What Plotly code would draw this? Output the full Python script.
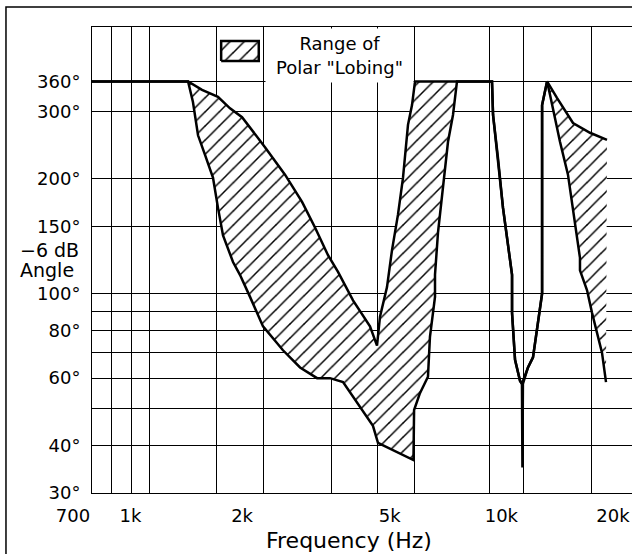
import math
import plotly.graph_objects as go

# Upper envelope of the -6 dB beamwidth (Hz, degrees)
freq_upper = [700, 1271, 1386, 1530, 1649, 1777, 2049, 2320, 2579, 2795, 3030, 3224,
              3539, 3932, 4107, 4184, 4370, 4508, 4678, 4826, 4978, 5104, 5200, 8386,
              8441, 8703, 8977, 9497, 9497, 9676, 9983, 10100, 10485, 10817, 11090,
              11445, 11445, 11804, 12553, 13866, 15409, 17125]
angle_upper = [360, 360, 342, 328, 306, 290, 242, 205, 174, 149, 126, 114,
               96, 82, 73, 87, 104, 130, 161, 201, 277, 312, 360, 360,
               294, 227, 168, 112, 89, 67, 59, 58, 64, 68, 80,
               100, 312, 360, 326, 280, 264, 253]

# Lower envelope of the -6 dB beamwidth (Hz, degrees)
freq_lower = [700, 1271, 1310, 1352, 1412, 1484, 1530, 1579, 1680, 1754, 1867, 2024,
              2291, 2547, 2831, 3067, 3326, 3696, 4005, 4132, 5150, 5170, 5362, 5635,
              5705, 5887, 5887, 5999, 6189, 6382, 6582, 6748, 8386, 8441, 8703, 8977,
              9497, 9497, 9676, 9983, 10100, 10130, 10160, 10485, 10817, 11090, 11445,
              11445, 11804, 12022, 12790, 13440, 13866, 14480, 14480, 15130, 15606,
              16096, 16600, 17020]
angle_lower = [360, 360, 318, 260, 231, 201, 168, 142, 121, 112, 98, 82,
               71, 64, 60, 60, 58.6, 50.4, 45, 40.6, 36.6, 49.5, 54.8, 60.5,
               77, 98, 112, 145, 193, 250, 294, 360, 360, 294, 227, 168,
               112, 89, 67, 59, 58, 35, 58, 64, 68, 80, 100,
               312, 360, 332, 250, 205, 168, 124, 115, 102, 89,
               79, 70, 58.6]

# Axis ticks and grid
grid_freqs = [792.5, 897, 1003, 1512, 2036, 3087, 4107, 5199, 8233, 10228, 15506]
freq_tick_vals = [700, 1000, 2000, 5000, 10000, 20000]
freq_tick_text = ["700", "1k", "2k", "5k", "10k", "20k"]
angle_grid = [30, 40, 50, 60, 70, 80, 90, 100, 150, 200, 300, 360]
angle_tick_text = ["30°", "40°", "", "60°", "", "80°", "", "100°", "150°", "200°", "300°", "360°"]

FONT = "DejaVu Sans"
hatch = dict(shape="/", fgcolor="black", bgcolor="white", fgopacity=1,
             size=10, solidity=0.15)
curve = dict(color="black", width=2.5)

fig = go.Figure()
fig.add_trace(go.Scatter(x=freq_lower, y=angle_lower, mode="lines", line=curve,
                         showlegend=False, hoverinfo="skip"))
fig.add_trace(go.Scatter(x=freq_upper, y=angle_upper, mode="lines", line=curve,
                         fill="tonexty", fillcolor="white", fillpattern=hatch,
                         showlegend=False, hoverinfo="skip"))
# hatched key swatch
fig.add_trace(go.Scatter(x=[0, 1, 1, 0, 0], y=[0, 0, 1, 1, 0], xaxis="x3", yaxis="y3",
                         mode="lines", line=dict(color="black", width=2.5),
                         fill="toself", fillcolor="white", fillpattern=hatch,
                         showlegend=False, hoverinfo="skip"))

fig.update_layout(
    width=632, height=554,
    margin=dict(l=92, r=0, t=27, b=61),
    paper_bgcolor="white", plot_bgcolor="white",
    font=dict(family=FONT, color="black", size=18),
    xaxis=dict(type="log", range=[math.log10(700), math.log10(20000)],
               tickmode="array", tickvals=freq_tick_vals, ticktext=freq_tick_text,
               ticks="", showgrid=False, zeroline=False,
               ticklabelshift=-19, ticklabelstandoff=6,
               tickfont=dict(size=18, family=FONT),
               minor=dict(tickmode="array", tickvals=grid_freqs, showgrid=True,
                          gridcolor="black", gridwidth=1, ticks=""),
               showline=True, mirror=True, linecolor="black", linewidth=1),
    yaxis=dict(type="log", range=[math.log10(29.99), math.log10(500)],
               tickmode="array", tickvals=angle_grid, ticktext=angle_tick_text,
               ticks="", showgrid=True, gridcolor="black", gridwidth=1,
               zeroline=False, ticklabelstandoff=7,
               tickfont=dict(size=18, family=FONT),
               showline=True, linecolor="black", linewidth=1),
    xaxis3=dict(domain=[0.235, 0.313], anchor="y3", range=[-0.06, 1.06], visible=False),
    yaxis3=dict(domain=[0.922, 0.975], anchor="x3", range=[-0.12, 1.12], visible=False),
    showlegend=False,
)

fig.add_annotation(xref="paper", yref="paper", x=0.4583, y=0.939,
                   xanchor="center", yanchor="middle",
                   text='Range of<br>Polar "Lobing"', showarrow=False,
                   width=147, height=53, bgcolor="white", borderpad=0,
                   font=dict(size=18, family=FONT))
fig.add_annotation(xref="paper", yref="paper", x=-0.137, y=0.5215,
                   xanchor="left", yanchor="middle",
                   text="−6 dB", showarrow=False, font=dict(size=19, family=FONT))
fig.add_annotation(xref="paper", yref="paper", x=-0.137, y=0.4785,
                   xanchor="left", yanchor="middle",
                   text="Angle", showarrow=False, font=dict(size=19, family=FONT))
fig.add_annotation(xref="paper", yref="paper", x=0.476, y=-0.1009,
                   xanchor="center", yanchor="middle",
                   text="Frequency (Hz)", showarrow=False, font=dict(size=22, family=FONT))

# outer frame
fig.add_shape(type="rect", xref="paper", yref="paper", x0=-0.1593, y0=-0.3, x1=1.3, y1=1.0429,
              line=dict(color="black", width=1.5), fillcolor="rgba(0,0,0,0)", layer="above")

fig.write_html("out.html")
